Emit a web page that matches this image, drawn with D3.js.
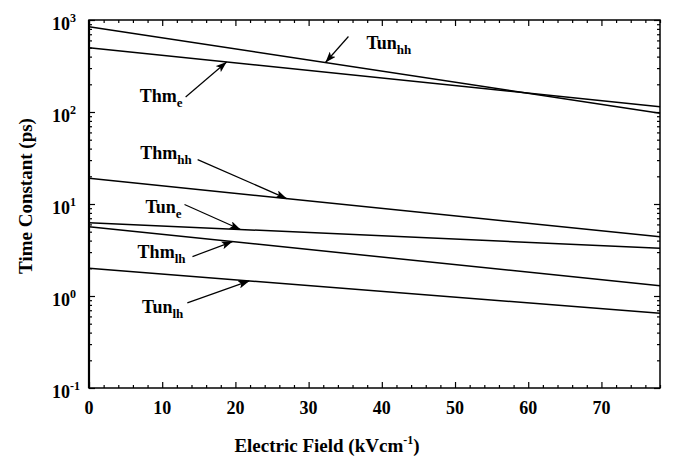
<!DOCTYPE html>
<html>
<head>
<meta charset="utf-8">
<script src="https://cdn.jsdelivr.net/npm/d3@7"></script>
<style>
  body { margin: 0; background: #fff; }
  svg { display: block; font-family: "Liberation Serif", "Times New Roman", serif; font-weight: bold; }
</style>
</head>
<body>
<div class="chart"></div>
<script>
// field values (kV/cm) where each curve was read
var field = [0, 78];

// time constants (ps) at field[0] and field[1]
var tunHH = [846, 97];
var thmE = [500, 114];
var thmHH = [19.0, 4.4];
var tunE = [6.26, 3.3];
var thmLH = [5.66, 1.29];
var tunLH = [2.0, 0.65];

var xTicks = [0, 10, 20, 30, 40, 50, 60, 70];
var yExponents = [-1, 0, 1, 2, 3];

var series = [
    { base: "Tun", sub: "hh", values: tunHH },
    { base: "Thm", sub: "e", values: thmE },
    { base: "Thm", sub: "hh", values: thmHH },
    { base: "Tun", sub: "e", values: tunE },
    { base: "Thm", sub: "lh", values: thmLH },
    { base: "Tun", sub: "lh", values: tunLH }
];

// where each arrow points (field value on its curve), tail offset and label offset in px
var notes = [
    { at: 32.3, tail: [23, -26], text: [18, 12], anchor: "start" },
    { at: 18.8, tail: [-41, 35], text: [-3, 5], anchor: "end" },
    { at: 27.0, tail: [-89, -39], text: [-6, -1], anchor: "end" },
    { at: 20.7, tail: [-56, -25], text: [-3, 8], anchor: "end" },
    { at: 19.6, tail: [-40, 15], text: [-7, 1], anchor: "end" },
    { at: 21.9, tail: [-62, 22], text: [-4, 10], anchor: "end" }
];

var svgWidth = 675;
var svgHeight = 459;
var margin = { top: 20, right: 15, bottom: 71, left: 89 };
var width = svgWidth - margin.left - margin.right;
var height = svgHeight - margin.top - margin.bottom;

var svg = d3.select(".chart").append("svg")
    .attr("width", svgWidth)
    .attr("height", svgHeight);

var defs = svg.append("defs");
defs.append("marker")
    .attr("id", "head")
    .attr("markerUnits", "userSpaceOnUse")
    .attr("markerWidth", 11)
    .attr("markerHeight", 8)
    .attr("refX", 11)
    .attr("refY", 4)
    .attr("orient", "auto")
    .append("path")
    .attr("d", "M0,0 L11,4 L0,8 L2.5,4 z")
    .attr("fill", "#000");

var chartGroup = svg.append("g")
    .attr("transform", `translate(${margin.left}, ${margin.top})`);

var x = d3.scaleLinear().domain([0, 78]).range([0, width]);
var y = d3.scaleLog().domain([0.1, 1000]).range([height, 0]);

// minor ticks
var xMinor = d3.range(0, 79, 2).filter(d => d % 10 !== 0);
var yMajor = yExponents.map(e => Math.pow(10, e));
var yMinor = [];
yExponents.slice(0, -1).forEach(function (e) {
    for (var k = 2; k <= 9; k++) yMinor.push(k * Math.pow(10, e));
});

function styleAxis(g) {
    g.select(".domain").remove();
    g.selectAll("line").attr("stroke", "#000").attr("stroke-width", 1.2);
    g.selectAll("text").remove();
}

// bottom / top
[[d3.axisBottom, height], [d3.axisTop, 0]].forEach(function (a) {
    chartGroup.append("g").attr("transform", `translate(0,${a[1]})`)
        .call(a[0](x).tickValues(xTicks).tickSize(-6)).call(styleAxis);
    chartGroup.append("g").attr("transform", `translate(0,${a[1]})`)
        .call(a[0](x).tickValues(xMinor).tickSize(-3)).call(styleAxis);
});
// left / right
[[d3.axisLeft, 0], [d3.axisRight, width]].forEach(function (a) {
    chartGroup.append("g").attr("transform", `translate(${a[1]},0)`)
        .call(a[0](y).tickValues(yMajor).tickSize(-6)).call(styleAxis);
    chartGroup.append("g").attr("transform", `translate(${a[1]},0)`)
        .call(a[0](y).tickValues(yMinor).tickSize(-3)).call(styleAxis);
});

// frame
chartGroup.append("rect")
    .attr("width", width)
    .attr("height", height)
    .attr("fill", "none")
    .attr("stroke", "#000")
    .attr("stroke-width", 1.5);
chartGroup.append("line")
    .attr("y1", 0).attr("y2", height)
    .attr("stroke", "#000").attr("stroke-width", 2.2);

// x tick labels
chartGroup.append("g").selectAll("text")
    .data(xTicks)
    .enter()
    .append("text")
    .attr("x", d => x(d))
    .attr("y", height + 26)
    .attr("text-anchor", "middle")
    .attr("font-size", 18)
    .text(d => d);

// y tick labels 10^n
var yLab = chartGroup.append("g").selectAll("text")
    .data(yExponents)
    .enter()
    .append("text")
    .attr("x", 52 - margin.left)
    .attr("y", d => y(Math.pow(10, d)) + 10)
    .attr("font-size", 18);
yLab.append("tspan").text("10");
yLab.append("tspan").attr("dy", -8).attr("font-size", 12).text(d => d);

// curves
var line = d3.line()
    .x((d, i) => x(field[i]))
    .y(d => y(d));

chartGroup.append("g").selectAll("path")
    .data(series)
    .enter()
    .append("path")
    .attr("d", d => line(d.values))
    .attr("fill", "none")
    .attr("stroke", "#000")
    .attr("stroke-width", 1.5);

// annotations with arrows
function valueAt(vals, f) {
    var t = (f - field[0]) / (field[1] - field[0]);
    return Math.pow(10, Math.log10(vals[0]) + t * (Math.log10(vals[1]) - Math.log10(vals[0])));
}

series.forEach(function (s, i) {
    var n = notes[i];
    var hx = x(n.at), hy = y(valueAt(s.values, n.at));
    var tx = hx + n.tail[0], ty = hy + n.tail[1];
    chartGroup.append("line")
        .attr("x1", tx).attr("y1", ty)
        .attr("x2", hx).attr("y2", hy)
        .attr("stroke", "#000")
        .attr("stroke-width", 1.2)
        .attr("marker-end", "url(#head)");
    var t = chartGroup.append("text")
        .attr("x", tx + n.text[0])
        .attr("y", ty + n.text[1])
        .attr("text-anchor", n.anchor)
        .attr("font-size", 18);
    t.append("tspan").text(s.base);
    t.append("tspan").attr("dy", 5).attr("font-size", 13).text(s.sub);
});

// axis titles
var xTitle = svg.append("text")
    .attr("x", 327)
    .attr("y", 452)
    .attr("text-anchor", "middle")
    .attr("font-size", 19);
xTitle.append("tspan").text("Electric Field (kVcm");
xTitle.append("tspan").attr("dy", -8).attr("font-size", 12).text("-1");
xTitle.append("tspan").attr("dy", 8).text(")");

svg.append("text")
    .attr("transform", "translate(32,196) rotate(-90)")
    .attr("text-anchor", "middle")
    .attr("font-size", 19)
    .text("Time Constant (ps)");
</script>
</body>
</html>
